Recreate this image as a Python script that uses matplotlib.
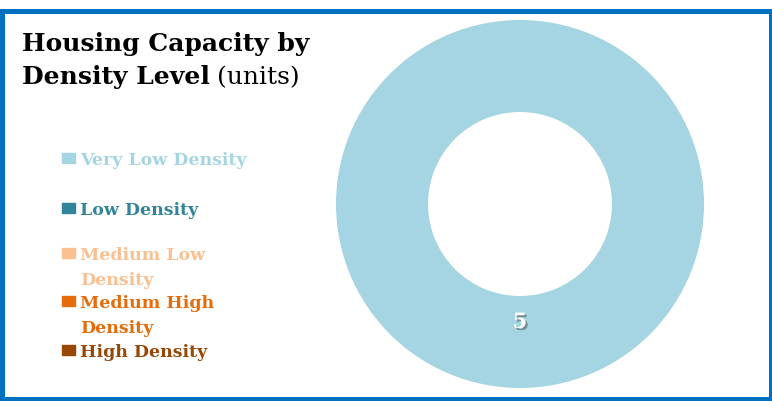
import matplotlib
matplotlib.use("Agg")
import numpy as np
import matplotlib.pyplot as plt
import matplotlib.patheffects as pe
from matplotlib.patches import Rectangle

# data
categories = ["Very Low Density", "Low Density", "Medium Low\nDensity",
              "Medium High\nDensity", "High Density"]
values = [5, 0, 0, 0, 0]
colors = ["#A5D5E2", "#31849B", "#FAC090", "#E46C0A", "#974806"]

W, H = 772, 401
fig = plt.figure(figsize=(W / 100, H / 100), dpi=100)
fig.patch.set_facecolor("white")

# blue frame around the chart
fig.patches.append(Rectangle((2 / W, 2.5 / H), 769 / W, 1 - 13 / H,
                             transform=fig.transFigure, fill=False,
                             edgecolor="#0070C0", linewidth=3.6))

serif = ["DejaVu Serif"]

# title
fig.text(22 / W, 1 - 51 / H, "Housing Capacity by", fontsize=18,
         fontweight="bold", family=serif, color="black", va="baseline")
t2 = fig.text(22 / W, 1 - 84 / H, "Density Level", fontsize=18,
              fontweight="bold", family=serif, color="black", va="baseline")
fig.canvas.draw()
bb = t2.get_window_extent()
fig.text((bb.x1 + 7) / W, 1 - 84 / H, "(units)", fontsize=18,
         family=serif, color="black", va="baseline")

# legend, drawn by hand (baseline of the first line of each entry)
leg_base = [165, 215, 260, 308, 357]
for lab, c, y in zip(categories, colors, leg_base):
    fig.patches.append(Rectangle((62 / W, 1 - (y - 2) / H), 13 / W, 10 / H,
                                 transform=fig.transFigure, color=c))
    for i, line in enumerate(lab.split("\n")):
        fig.text(80 / W, 1 - (y + 25 * i) / H, line, fontsize=12.5,
                 fontweight="bold", family=serif, color=c, va="baseline")

# donut
cx, cy, r = 520, 204, 184
ax = fig.add_axes([(cx - r) / W, (H - cy - r) / H, 2 * r / W, 2 * r / H])
wedges, texts = ax.pie(values, colors=colors, startangle=90, counterclock=False,
                       radius=1, wedgeprops=dict(width=0.5, linewidth=0))
ax.set_xlim(-1, 1)
ax.set_ylim(-1, 1)
ax.set_aspect("equal")
ax.axis("off")

# data label
for w, v in zip(wedges, values):
    if v == 0:
        continue
    ang = np.deg2rad((w.theta1 + w.theta2) / 2)
    ax.text(0.64 * np.cos(ang), 0.64 * np.sin(ang), str(v), ha="center",
            va="center", fontsize=15, fontweight="bold", family=serif,
            color="white",
            path_effects=[pe.withSimplePatchShadow(offset=(1.5, -1.5),
                                                   shadow_rgbFace="#444444",
                                                   alpha=0.5)])

fig.savefig("out.png", dpi=100)
